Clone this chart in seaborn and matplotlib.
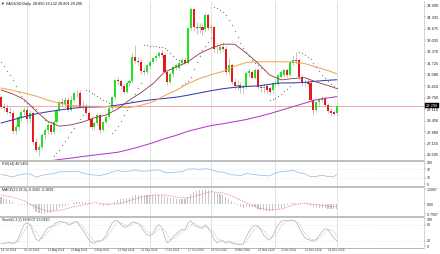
import matplotlib
matplotlib.use("Agg")
import matplotlib.pyplot as plt
import matplotlib.transforms as mtransforms
from matplotlib.lines import Line2D
import numpy as np
import pandas as pd
import seaborn as sns

sns.set_theme(style="white")
NARROW = ['Liberation Sans Narrow', 'Liberation Sans', 'DejaVu Sans']
plt.rcParams['font.family'] = NARROW

# ---------------- data (XAGUSD daily) ----------------
dates = [d for d in pd.bdate_range("2024-07-19", "2024-12-30") if d != pd.Timestamp("2024-12-25")]

open_ = [29.80, 29.23, 29.15, 28.92, 28.87, 27.85, 28.10, 28.60, 28.96, 29.06,
         28.55, 28.90, 27.26, 26.79, 26.98, 27.64, 27.93, 28.20, 27.83, 28.40,
         29.06, 29.53, 29.38, 29.63, 29.06, 29.63, 30.00, 30.05, 29.25, 29.30,
         28.90, 28.55, 28.10, 28.32, 28.78, 27.95, 28.38, 28.67, 29.17, 29.80,
         30.77, 30.70, 30.40, 30.10, 30.60, 30.70, 32.07, 31.85, 31.80, 31.25,
         31.20, 31.55, 31.80, 32.00, 32.15, 32.30, 32.20, 31.20, 30.65, 31.10,
         31.50, 31.45, 31.75, 31.90, 31.75, 33.72, 34.80, 33.75, 33.70, 33.80,
         33.65, 34.45, 33.72, 33.75, 32.50, 32.47, 32.64, 32.55, 31.22, 31.60,
         30.65, 30.45, 30.48, 30.31, 30.35, 31.16, 31.22, 30.90, 31.33, 30.37,
         30.30, 30.42, 30.31, 30.20, 30.58, 30.60, 30.94, 31.05, 31.33, 31.05,
         31.73, 31.90, 31.90, 30.94, 30.60, 30.65, 30.60, 29.63, 29.06, 29.50,
         29.63, 29.74, 29.34, 29.00, 28.92, 28.89]
high = [29.92, 29.45, 29.38, 29.25, 29.05, 28.25, 28.78, 29.05, 29.25, 29.30,
        29.05, 29.00, 27.45, 27.15, 27.75, 28.05, 28.30, 28.35, 28.48, 29.12,
        29.62, 29.72, 29.78, 29.80, 29.90, 30.15, 30.20, 30.18, 29.55, 29.45,
        29.02, 28.72, 28.40, 28.90, 28.88, 28.45, 28.75, 29.25, 29.88, 30.85,
        30.95, 30.85, 30.55, 30.70, 30.80, 32.30, 32.75, 32.05, 31.95, 31.50,
        31.70, 31.90, 32.10, 32.25, 32.40, 32.45, 32.28, 31.30, 31.20, 31.60,
        31.72, 31.85, 32.00, 32.05, 33.80, 34.90, 34.88, 34.05, 34.00, 34.00,
        34.55, 34.60, 33.95, 33.85, 32.85, 32.80, 32.95, 32.70, 32.00, 31.75,
        30.90, 30.75, 30.65, 30.55, 31.25, 31.45, 31.35, 31.45, 31.45, 30.55,
        30.60, 30.55, 30.45, 30.70, 30.80, 31.10, 31.35, 31.45, 31.45, 31.90,
        32.20, 32.35, 32.00, 31.10, 30.80, 30.85, 30.70, 29.75, 29.60, 29.75,
        29.85, 29.85, 29.45, 29.15, 29.05, 29.33]
low = [29.10, 28.98, 28.82, 28.75, 27.70, 27.72, 27.95, 28.45, 28.80, 28.45,
       28.40, 27.05, 26.65, 26.45, 26.85, 27.40, 27.70, 27.70, 27.72, 28.30,
       28.95, 29.22, 29.25, 28.95, 28.98, 29.50, 29.82, 29.15, 29.05, 28.85,
       28.42, 27.95, 27.90, 28.20, 27.75, 27.85, 28.25, 28.55, 29.05, 29.70,
       30.50, 30.25, 29.95, 30.00, 30.45, 30.62, 31.75, 31.60, 31.10, 31.05,
       31.10, 31.40, 31.65, 31.85, 32.00, 32.05, 31.10, 30.50, 30.55, 30.95,
       31.35, 31.35, 31.60, 31.60, 31.65, 33.60, 33.55, 33.40, 33.45, 33.35,
       33.55, 33.60, 33.45, 32.35, 32.30, 32.30, 32.40, 31.05, 31.10, 30.55,
       30.25, 30.20, 30.05, 29.95, 30.25, 30.95, 30.80, 30.80, 30.25, 30.10,
       30.05, 30.05, 29.90, 30.05, 30.40, 30.45, 30.85, 30.95, 30.95, 30.98,
       31.60, 31.70, 30.85, 30.45, 30.40, 30.40, 29.50, 28.75, 28.95, 29.35,
       29.50, 29.25, 28.90, 28.80, 28.75, 28.80]
close = [29.23, 29.15, 28.92, 28.87, 27.85, 28.10, 28.68, 28.96, 29.06, 28.55,
         28.90, 27.26, 26.79, 26.98, 27.64, 27.93, 28.20, 27.83, 28.40, 29.06,
         29.53, 29.38, 29.63, 29.06, 29.63, 30.00, 30.05, 29.25, 29.30, 28.90,
         28.50, 28.10, 28.32, 28.78, 27.95, 28.38, 28.67, 29.17, 29.80, 30.77,
         30.70, 30.40, 30.10, 30.60, 30.70, 32.07, 31.85, 31.80, 31.25, 31.20,
         31.60, 31.80, 32.00, 32.15, 32.30, 32.20, 31.20, 30.65, 31.10, 31.50,
         31.60, 31.75, 31.90, 31.75, 33.70, 34.80, 33.75, 33.70, 33.80, 33.60,
         34.45, 33.72, 33.75, 32.50, 32.55, 32.64, 32.55, 31.22, 31.60, 30.65,
         30.40, 30.50, 30.31, 30.35, 31.16, 31.25, 30.90, 31.33, 30.37, 30.30,
         30.35, 30.20, 30.08, 30.60, 30.62, 31.05, 31.22, 31.33, 31.05, 31.80,
         31.90, 31.85, 30.94, 30.60, 30.65, 30.55, 29.63, 29.06, 29.50, 29.63,
         29.72, 29.34, 29.00, 28.89, 28.86, 29.30]
sar = [31.80, 31.55, 31.30, 31.05, 30.75, 30.40, 30.10, 29.85, 29.60, 29.45,
       29.35, 29.25, 29.10, 28.90, 28.70, 28.50, 28.40, 28.38, 26.45, 26.60,
       26.80, 27.05, 27.30, 27.55, 27.80, 28.05, 28.30, 28.55, 28.75, 30.20,
       30.15, 30.05, 29.95, 29.85, 29.75, 29.65, 29.55, 29.45, 27.75, 27.90,
       28.15, 28.45, 28.75, 29.05, 29.30, 29.55, 29.95, 30.30, 30.60, 32.75,
       32.74, 32.72, 32.70, 32.68, 32.66, 32.63, 32.58, 32.45, 32.28, 32.12,
       31.98, 31.88, 30.50, 30.58, 30.70, 30.95, 31.40, 31.80, 32.15, 32.45,
       32.70, 32.95, 33.15, 34.90, 34.85, 34.75, 34.62, 34.45, 34.20, 33.90,
       33.55, 33.20, 32.88, 32.60, 32.35, 32.12, 31.92, 31.75, 31.60, 31.45,
       31.33, 31.22, 29.62, 29.68, 29.75, 29.85, 29.98, 30.12, 30.28, 30.45,
       30.65, 30.90, 32.35, 32.30, 32.20, 32.08, 31.95, 31.75, 31.48, 31.25,
       31.05, 30.88, 30.72, 30.56, 30.42, 30.30]

# moving averages read every 4 bars
ma_x = [0, 4, 8, 12, 16, 20, 24, 28, 32, 36, 40, 44, 48, 52, 56, 60, 64, 68, 72, 76,
        80, 84, 88, 92, 96, 100, 104, 108, 112, 115]
ma20 = [30.20, 29.98, 29.65, 29.00, 28.42, 28.14, 28.22, 28.38, 28.62, 28.78,
        29.12, 29.63, 30.05, 30.55, 31.22, 31.50, 31.80, 32.27, 32.58, 32.80,
        32.80, 32.30, 31.72, 31.05, 30.77, 30.85, 30.90, 30.65, 30.45, 30.28]
ma50 = [30.31, 30.18, 30.02, 29.85, 29.62, 29.45, 29.33, 29.28, 29.27, 29.26,
        29.22, 29.20, 29.33, 29.52, 29.88, 30.18, 30.55, 30.85, 31.07, 31.25,
        31.55, 31.76, 31.80, 31.80, 31.80, 31.78, 31.70, 31.50, 31.30, 31.12]
ma100 = [28.32, 28.50, 28.68, 28.84, 28.96, 29.06, 29.15, 29.22, 29.23, 29.25,
         29.34, 29.45, 29.56, 29.65, 29.72, 29.79, 29.90, 30.03, 30.16, 30.27,
         30.35, 30.40, 30.43, 30.52, 30.60, 30.60, 30.63, 30.70, 30.75, 30.78]
ma200 = [25.85, 25.93, 26.00, 26.08, 26.15, 26.25, 26.33, 26.42, 26.50, 26.58,
         26.66, 26.82, 27.00, 27.20, 27.43, 27.62, 27.85, 28.02, 28.18, 28.28,
         28.40, 28.52, 28.68, 28.85, 29.05, 29.25, 29.45, 29.65, 29.75, 29.82]

# oscillators
osc_x = list(range(0, 115, 2)) + [115]
rsi = [45, 40, 33, 42, 48, 47, 32, 40, 46, 48, 57, 58, 58, 61, 52, 45, 42, 40, 46, 56,
       64, 58, 61, 66, 60, 61, 64, 66, 55, 53, 56, 58, 70, 71, 69, 72, 68, 58, 56, 47,
       42, 40, 49, 46, 42, 40, 38, 52, 58, 60, 64, 53, 48, 34, 36, 41, 35, 34, 46.5]
macd_main = [0.55, 0.48, 0.40, 0.33, 0.15, 0.02, -0.05, -0.07, -0.06, -0.10,
             -0.12, -0.35, -0.58, -0.72, -0.80, -0.78, -0.72, -0.68, -0.60, -0.47,
             -0.32, -0.20, -0.10, -0.06, 0.05, 0.14, 0.22, 0.22, 0.22, 0.19,
             0.13, 0.05, 0.01, 0.00, -0.08, -0.10, -0.09, -0.04, 0.06, 0.22,
             0.34, 0.40, 0.42, 0.47, 0.51, 0.65, 0.74, 0.79, 0.78, 0.75,
             0.74, 0.74, 0.75, 0.76, 0.78, 0.77, 0.68, 0.55, 0.49, 0.47,
             0.45, 0.45, 0.45, 0.43, 0.62, 0.85, 0.98, 1.06, 1.12, 1.15,
             1.2087, 1.19, 1.15, 1.03, 0.92, 0.83, 0.72, 0.55, 0.42, 0.25,
             0.08, -0.07, -0.18, -0.26, -0.25, -0.22, -0.24, -0.22, -0.35, -0.42,
             -0.48, -0.52, -0.55, -0.52, -0.47, -0.38, -0.28, -0.18, -0.08, 0.02,
             0.10, 0.14, 0.10, 0.04, 0.02, -0.02, -0.10, -0.20, -0.26, -0.30,
             -0.31, -0.33, -0.36, -0.38, -0.38, -0.3582]
macd_signal = [0.75, 0.58, 0.28, -0.25, -0.55, -0.50, -0.25, -0.05, 0.14, 0.02,
               0.02, 0.30, 0.58, 0.74, 0.76, 0.58, 0.50, 0.78, 1.02, 0.92,
               0.58, 0.12, -0.30, -0.45, -0.38, -0.05, 0.10, -0.02, -0.14, -0.20]
stoch_main = [8, 10, 12, 14, 9, 12, 30, 58, 82, 86,
              80, 50, 25, 20, 33, 52, 68, 72, 78, 88,
              92, 90, 88, 80, 82, 90, 92, 75, 60, 42,
              25, 13, 10, 20, 18, 25, 40, 65, 85, 95,
              94, 82, 70, 72, 80, 90, 88, 85, 70, 55,
              42, 38, 45, 68, 80, 72, 35, 12, 20, 35,
              45, 55, 62, 60, 85, 95, 80, 72, 70, 65,
              80, 65, 50, 25, 12, 18, 20, 10, 18, 10,
              8, 6, 5, 8, 35, 55, 70, 78, 75, 60,
              40, 28, 22, 35, 60, 80, 92, 96, 95, 95,
              97, 90, 70, 48, 32, 25, 22, 18, 25, 40,
              55, 65, 62, 45, 30, 19]
stoch_signal = [10, 11, 12, 18, 58, 83, 52, 26, 51, 73, 86, 90, 83, 88, 76, 42, 16, 16, 28, 63,
                91, 82, 74, 86, 81, 55, 42, 64, 62, 22, 33, 54, 69, 87, 74, 72, 65, 29, 17, 16,
                12, 6, 16, 53, 74, 58, 30, 39, 77, 94, 96, 86, 50, 26, 22, 40, 61, 57, 31]

price_ticks = [34.990, 34.335, 33.675, 33.035, 32.370, 31.725, 31.080, 30.410,
               29.760, 29.110, 28.450, 27.800, 27.155, 26.505]
price_labels = ["34.990", "34.335", "33.675", "33.035", "32.370", "31.725", "31.080",
                "30.410", "29.760", "29.110", "28.450", "27.800", "27.155", "26.505"]
grid_bars = [9, 30, 51, 72, 94, 115]
title_main = "\u25bc XAGUSD,Daily  28.850 29.132 28.801 29.296"
last_label = "29.296"

# ---------------- figure ----------------
W, H = 440, 254
fig = plt.figure(figsize=(W / 100, H / 100), dpi=100)
fig.patch.set_facecolor("white")
PX = 2.92
X_LEFT, X_RIGHT = -1 / PX, 423 / PX
idx = np.arange(len(close))


def panel(y0, y1, labelsize=2.5):
    ax = fig.add_axes([0, 1 - y1 / H, 424 / W, (y1 - y0) / H])
    ax.set_facecolor("white")
    ax.set_xlim(X_LEFT, X_RIGHT)
    for s in ["left", "top", "bottom"]:
        ax.spines[s].set_visible(False)
    ax.spines["right"].set_color("#c4c4c4")
    ax.spines["right"].set_linewidth(0.5)
    ax.set_xticks([])
    ax.yaxis.tick_right()
    ax.tick_params(axis="y", length=1.2, width=0.35, color="#888888", pad=0.6,
                   labelsize=labelsize, labelcolor="#222222")
    ax.grid(False)
    for g in grid_bars:
        ax.axvline(g, color="#d6d6d6", lw=0.5, zorder=0)
    return ax


main = panel(1, 160, labelsize=2.9)
rsi_ax = panel(162, 186)
macd_ax = panel(188, 216)
sto_ax = panel(218, 247)

# --- main chart ---
main.set_ylim(26.22, 35.254)
main.axhline(close[-1], color="#f2a9a9", lw=0.7, zorder=1)
main.vlines(idx, low, high, color="#a6a6a6", lw=0.45, zorder=2)
o = np.array(open_); c = np.array(close)
body_b = np.minimum(o, c)
body_h = np.maximum(np.abs(c - o), 0.035)
cols = np.where(c >= o, "#22e022", "#e61a1a")
main.bar(idx, body_h, bottom=body_b, width=0.72, color=cols, linewidth=0, zorder=3)

sns.lineplot(x=ma_x, y=ma200, ax=main, color="#b23cc8", linewidth=0.75, zorder=4)
sns.lineplot(x=ma_x, y=ma100, ax=main, color="#3a3ab4", linewidth=0.75, zorder=4)
sns.lineplot(x=ma_x, y=ma50, ax=main, color="#f3a45c", linewidth=0.75, zorder=4)
sns.lineplot(x=ma_x, y=ma20, ax=main, color="#8e3b3b", linewidth=0.6, zorder=4)
sns.scatterplot(x=idx, y=sar, ax=main, s=0.9, color="#8a8a8a", linewidth=0, zorder=5)

main.set_yticks(price_ticks)
main.set_yticklabels(price_labels)
main.set_xlabel(""); main.set_ylabel("")
tr = mtransforms.blended_transform_factory(main.transAxes, main.transData)
main.text(1.004, close[-1], last_label, transform=tr, fontsize=2.9, color="white",
          ha="left", va="center", zorder=10, clip_on=False,
          bbox=dict(boxstyle="square,pad=0.15", fc="black", ec="black", lw=0.3))

# --- RSI ---
px_r = 21.3 / 100
rsi_ax.set_ylim(-2 / px_r, 100 + 0.7 / px_r)
for lv in (30, 70):
    rsi_ax.axhline(lv, color="#e2e2e2", lw=0.4, ls=(0, (1, 1)), zorder=1)
sns.lineplot(x=osc_x, y=rsi, ax=rsi_ax, color="#9fc4ea", linewidth=0.6, zorder=3)
rsi_ax.set_yticks([100, 70, 30, 0])
rsi_ax.set_yticklabels(["100", "70", "30", "0"])
rsi_ax.set_xlabel(""); rsi_ax.set_ylabel("")

# --- MACD ---
k = (1.2087 + 0.7997) / 25.0
macd_ax.set_ylim(-0.7997 - 1.7 * k, 1.2087 + 1.3 * k)
macd_ax.bar(idx, macd_main, width=0.38, color="#c6c6c6", linewidth=0, zorder=2)
sns.lineplot(x=ma_x, y=macd_signal, ax=macd_ax, color="#e07070", linewidth=0.55,
             linestyle=(0, (1.2, 1.2)), zorder=3)
macd_ax.set_yticks([1.2087, 0.0, -0.7997])
macd_ax.set_yticklabels(["1.2087", "0.00", "-0.7997"])
macd_ax.set_xlabel(""); macd_ax.set_ylabel("")

# --- Stochastic ---
px_s = 26.7 / 100
sto_ax.set_ylim(-1 / px_s, 100 + 1.3 / px_s)
for lv in (20, 80):
    sto_ax.axhline(lv, color="#e2e2e2", lw=0.4, ls=(0, (1, 1)), zorder=1)
sns.lineplot(x=idx, y=stoch_main, ax=sto_ax, color="#b9b9b9", linewidth=0.55, zorder=3)
sns.lineplot(x=osc_x, y=stoch_signal, ax=sto_ax, color="#d4b4b4", linewidth=0.55,
             linestyle=(0, (1.2, 1.2)), zorder=3)
sto_ax.set_yticks([100, 80, 20, 0])
sto_ax.set_yticklabels(["100", "80", "20", "0"])
sto_ax.set_xlabel(""); sto_ax.set_ylabel("")

# date labels
trd = mtransforms.blended_transform_factory(sto_ax.transData, sto_ax.transAxes)
for i in range(0, len(dates), 8):
    d = dates[i]
    sto_ax.text(i, -0.11, f"{d.day} {d.strftime('%b')} {d.year}", transform=trd,
                fontsize=2.1, color="#333333", ha="left", va="center", clip_on=False)

# window separators
for y, lw, colr in [(161, 1.2, "#b3b3b3"), (187, 1.2, "#b3b3b3"), (217, 1.2, "#b3b3b3"),
                    (248, 0.5, "#9a9a9a")]:
    fig.add_artist(Line2D([0, 424 / W], [1 - y / H, 1 - y / H], color=colr, lw=lw))

# panel titles
fig.text(1 / W, 1 - 4 / H, title_main, fontsize=2.7, color="#111111", va="center",
         ha="left", family=NARROW)
fig.text(2 / W, 1 - 164.5 / H, "RSI(14) 46.5405", fontsize=2.6, color="#222222", va="center")
fig.text(2 / W, 1 - 190.5 / H, "MACD(12,26,9) -0.3582 -0.1659", fontsize=2.6, color="#222222", va="center")
fig.text(2 / W, 1 - 220.5 / H, "Stoch(5,3,3) 18.8007 13.0490", fontsize=2.6, color="#222222", va="center")

fig.savefig("out.png", dpi=100, facecolor="white")
